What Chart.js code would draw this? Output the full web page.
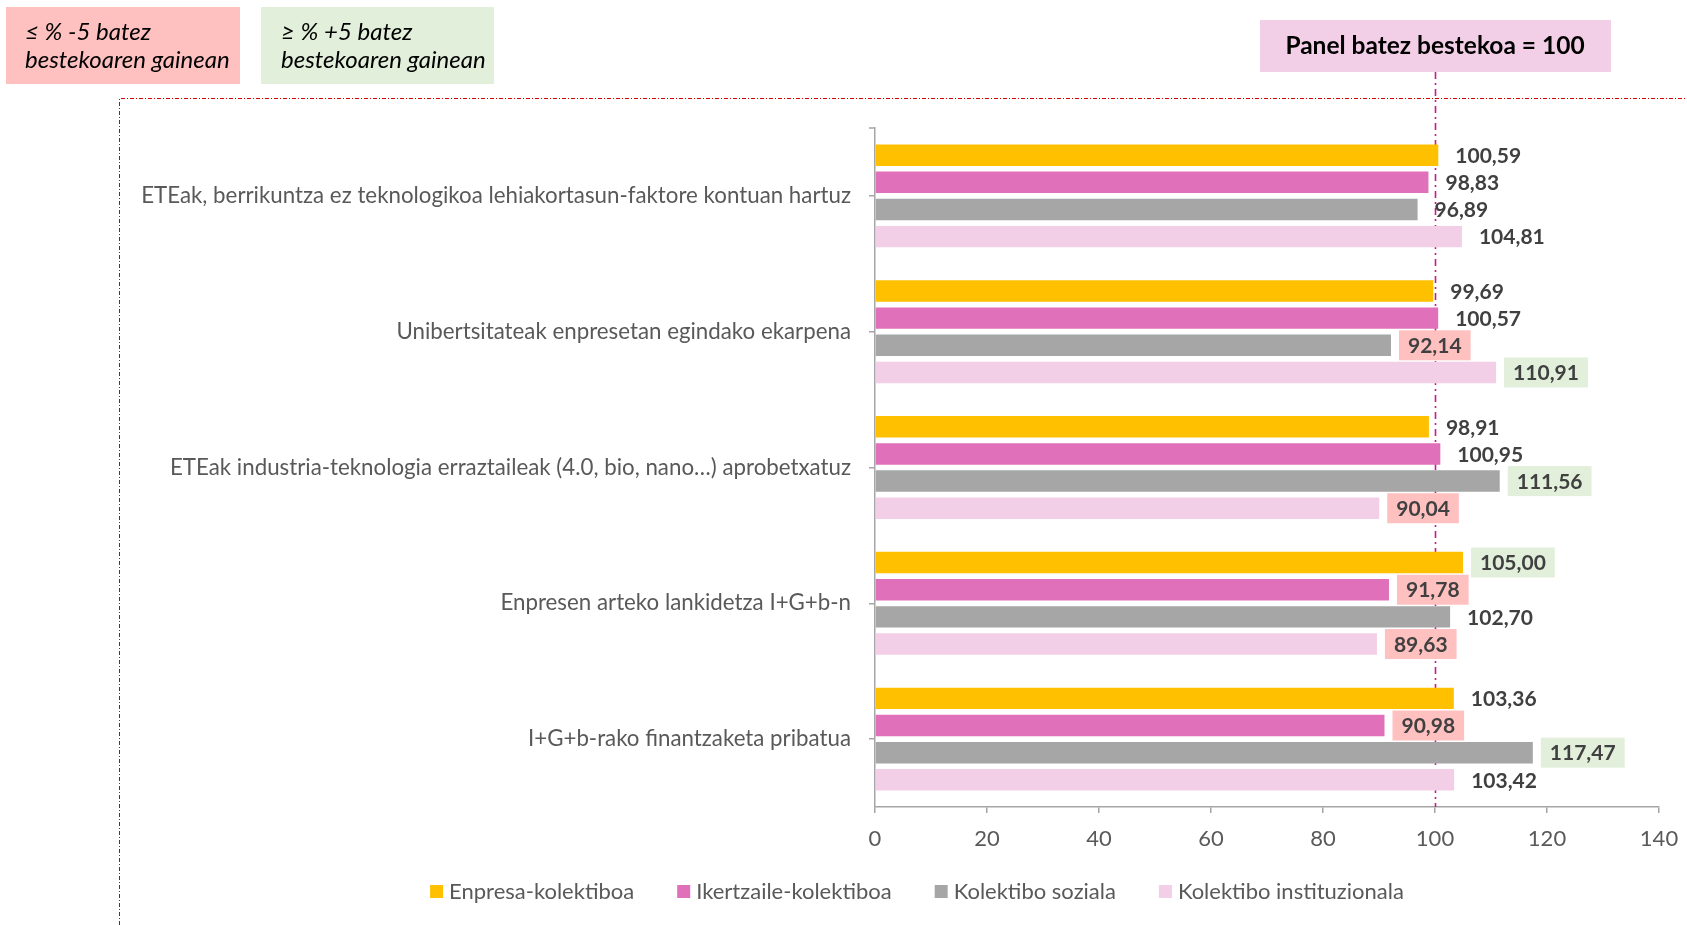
<!DOCTYPE html>
<html>
<head>
<meta charset="utf-8">
<script src="https://cdn.jsdelivr.net/npm/chart.js@4.4.0/dist/chart.umd.min.js"></script>
<style>
  html, body { margin: 0; padding: 0; background: #ffffff; }
  #wrap { width: 1687px; height: 925px; }
</style>
</head>
<body>
<div id="wrap"><canvas id="c" width="1687" height="925"></canvas></div>
<script>
// ---- data ----
const categories = [
  "ETEak, berrikuntza ez teknologikoa lehiakortasun-faktore kontuan hartuz",
  "Unibertsitateak enpresetan egindako ekarpena",
  "ETEak industria-teknologia erraztaileak (4.0, bio, nano…) aprobetxatuz",
  "Enpresen arteko lankidetza I+G+b-n",
  "I+G+b-rako finantzaketa pribatua"
];
const seriesNames = ["Enpresa-kolektiboa", "Ikertzaile-kolektiboa", "Kolektibo soziala", "Kolektibo instituzionala"];
const enpresa     = [100.59, 99.69, 98.91, 105.00, 103.36];
const ikertzaile  = [98.83, 100.57, 100.95, 91.78, 90.98];
const soziala     = [96.89, 92.14, 111.56, 102.70, 117.47];
const instituz    = [104.81, 110.91, 90.04, 89.63, 103.42];
const xTicks = [0, 20, 40, 60, 80, 100, 120, 140];
const panelAverage = 100;
const lowThreshold = 95;
const highThreshold = 105;
const noteLow = ["≤ % -5 batez", "bestekoaren gainean"];
const noteHigh = ["≥ % +5 batez", "bestekoaren gainean"];
const panelNote = "Panel batez bestekoa = 100";

// ---- styles ----
const colors = ["#FFC000", "#DF70B9", "#A6A6A6", "#F3CFE7"];
const RED_BG = "#FFC0C0";
const GREEN_BG = "#E2EFDA";
const PINK_BG = "#F3CEE7";
const AXIS = "#A6A6A6";
const FONT = "Lato";

const dataSeries = [enpresa, ikertzaile, soziala, instituz];

function fmt(v) { return v.toFixed(2).replace(".", ","); }

const decorPlugin = {
  id: "decor",
  beforeDraw(chart) {
    const ctx = chart.ctx;
    ctx.save();
    // red dash-dot frame
    ctx.strokeStyle = "#D00000";
    ctx.lineWidth = 1;
    ctx.setLineDash([4, 2, 1, 2]);
    ctx.beginPath();
    ctx.moveTo(119.5, 925);
    ctx.lineTo(119.5, 98.5);
    ctx.lineTo(1687, 98.5);
    ctx.stroke();
    ctx.setLineDash([]);

    // top-left notes
    ctx.fillStyle = RED_BG;
    ctx.fillRect(6, 7, 234, 77);
    ctx.fillStyle = GREEN_BG;
    ctx.fillRect(261, 7, 233, 77);
    ctx.fillStyle = "#000000";
    ctx.font = "italic 24px " + FONT;
    ctx.textBaseline = "middle";
    ctx.textAlign = "left";
    ctx.fillText(noteLow[0], 25, 32);
    ctx.fillText(noteLow[1], 25, 60);
    ctx.fillText(noteHigh[0], 281, 32);
    ctx.fillText(noteHigh[1], 281, 60);

    // panel note
    ctx.fillStyle = PINK_BG;
    ctx.fillRect(1260, 20, 351, 52);
    ctx.fillStyle = "#000000";
    ctx.font = "bold 24.5px " + FONT;
    ctx.textAlign = "center";
    ctx.fillText(panelNote, 1435, 46);
    ctx.restore();
  },
  beforeDatasetsDraw(chart) {
    const ctx = chart.ctx;
    const x = Math.round(chart.scales.x.getPixelForValue(panelAverage)) + 0.5;
    ctx.save();
    ctx.strokeStyle = "#C8198A";
    ctx.lineWidth = 1.6;
    ctx.setLineDash([7, 4, 2, 4]);
    ctx.beginPath();
    ctx.moveTo(x, 72);
    ctx.lineTo(x, chart.chartArea.bottom);
    ctx.stroke();
    // top tick of the category axis
    ctx.setLineDash([]);
    ctx.strokeStyle = AXIS;
    ctx.lineWidth = 1.5;
    const ca = chart.chartArea;
    ctx.beginPath();
    ctx.moveTo(ca.left - 6, ca.top);
    ctx.lineTo(ca.left, ca.top);
    ctx.stroke();
    ctx.restore();
  },
  afterDatasetsDraw(chart) {
    const ctx = chart.ctx;
    ctx.save();
    ctx.font = "bold 21px " + FONT;
    ctx.textBaseline = "middle";
    ctx.textAlign = "left";
    chart.data.datasets.forEach((ds, di) => {
      const meta = chart.getDatasetMeta(di);
      meta.data.forEach((el, i) => {
        const v = ds.data[i];
        const txt = fmt(v);
        const tx = el.x + 17;
        const w = ctx.measureText(txt).width;
        if (v <= lowThreshold || v >= highThreshold) {
          ctx.fillStyle = v <= lowThreshold ? RED_BG : GREEN_BG;
          ctx.fillRect(el.x + 8, el.y - 15, w + 18, 30);
        }
        ctx.fillStyle = "#404040";
        ctx.fillText(txt, tx, el.y + 1);
      });
    });
    ctx.restore();
  },
  afterDraw(chart) {
    // legend
    const ctx = chart.ctx;
    ctx.save();
    ctx.font = "22px " + FONT;
    ctx.textBaseline = "middle";
    ctx.textAlign = "left";
    const box = 13, gapIn = 6, gapOut = 43;
    const widths = seriesNames.map(n => ctx.measureText(n).width);
    let total = 0;
    widths.forEach((w, i) => { total += box + gapIn + w + (i < widths.length - 1 ? gapOut : 0); });
    let x = 917 - total / 2;
    const y = 892;
    seriesNames.forEach((n, i) => {
      ctx.fillStyle = colors[i];
      ctx.fillRect(x, y - 7, box, box);
      ctx.fillStyle = "#595959";
      ctx.fillText(n, x + box + gapIn, y);
      x += box + gapIn + widths[i] + gapOut;
    });
    ctx.restore();
  }
};

new Chart(document.getElementById("c"), {
  type: "bar",
  data: {
    labels: categories,
    datasets: dataSeries.map((d, i) => ({
      label: seriesNames[i],
      data: d,
      backgroundColor: colors[i],
      borderWidth: 0,
      categoryPercentage: 0.8,
      barPercentage: 0.79
    }))
  },
  options: {
    indexAxis: "y",
    responsive: false,
    animation: false,
    devicePixelRatio: 1,
    layout: { padding: { top: 128, left: 0, right: 28, bottom: 74 } },
    plugins: { legend: { display: false }, tooltip: { enabled: false } },
    scales: {
      x: {
        min: 0, max: 140,
        afterBuildTicks(scale) { scale.ticks = xTicks.map(v => ({ value: v })); },
        afterFit(scale) { scale.height = 44; scale.paddingLeft = 0; scale.paddingRight = 0; },
        grid: { drawOnChartArea: false, tickLength: 6, color: AXIS, lineWidth: 1.5 },
        border: { color: AXIS, width: 1.5 },
        ticks: { color: "#595959", font: { family: FONT, size: 22 }, padding: 13 }
      },
      y: {
        afterFit(scale) { scale.width = 875; scale.paddingTop = 0; scale.paddingBottom = 0; },
        grid: { drawOnChartArea: false, tickLength: 6, color: AXIS, lineWidth: 1.5, offset: false },
        border: { color: AXIS, width: 1.5 },
        ticks: { color: "#595959", font: { family: FONT, size: 22.3 }, padding: 18, autoSkip: false }
      }
    }
  },
  plugins: [decorPlugin]
});
</script>
</body>
</html>
